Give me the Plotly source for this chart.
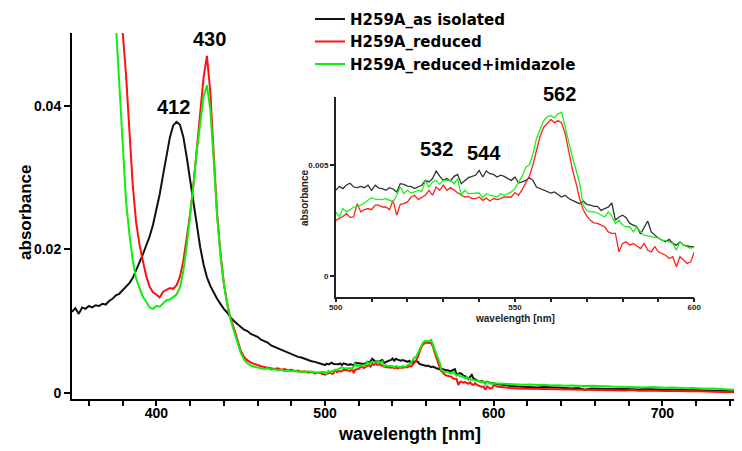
import plotly.graph_objects as go

# ---------------- data ----------------
# UV region (2 nm grid)
wl_uv_black = list(range(350, 500, 2))
black_uv = [0.0113, 0.0118, 0.0110, 0.0119, 0.0117, 0.0121, 0.0119, 0.0122, 0.0121, 0.0124,
            0.0123, 0.0128, 0.0131, 0.0136, 0.0138, 0.0143, 0.0147, 0.0153, 0.0160, 0.0170,
            0.0182, 0.0193, 0.0205, 0.0218, 0.0234, 0.0254, 0.0277, 0.0304, 0.0332, 0.0356,
            0.0373, 0.0378, 0.0374, 0.0357, 0.0329, 0.0297, 0.0263, 0.0231, 0.0203, 0.0179,
            0.0161, 0.0149, 0.0139, 0.0131, 0.0124, 0.0117, 0.0112, 0.0105, 0.0100, 0.0096,
            0.0092, 0.0088, 0.0086, 0.0082, 0.0080, 0.0078, 0.0074, 0.0072, 0.0070, 0.0066,
            0.0064, 0.0062, 0.0059, 0.0058, 0.0055, 0.0054, 0.0052, 0.0050, 0.0049, 0.0047,
            0.0046, 0.0044, 0.0043, 0.0041, 0.0040]

wl_uv_red_green = list(range(370, 500, 2))
red_uv = [0.090, 0.078, 0.068, 0.060, 0.054, 0.0505, 0.0445, 0.0360, 0.0290, 0.0238,
          0.0207, 0.0184, 0.0163, 0.0148, 0.0140, 0.0137, 0.0133, 0.0141, 0.0143, 0.0146,
          0.0145, 0.0150, 0.0162, 0.0184, 0.0216, 0.0249, 0.0290, 0.0342, 0.0394, 0.0440,
          0.0470, 0.0420, 0.0333, 0.0250, 0.0195, 0.0153, 0.0124, 0.0104, 0.0090, 0.0074,
          0.0059, 0.0050, 0.0045, 0.0042, 0.0040, 0.0039, 0.0037, 0.0036, 0.0035, 0.0035,
          0.0033, 0.0034, 0.0032, 0.0033, 0.0031, 0.0032, 0.0030, 0.0031, 0.0029, 0.0030,
          0.0028, 0.0029, 0.0027, 0.0028, 0.0026]
green_uv = [0.085, 0.070, 0.060, 0.0515, 0.0430, 0.0335, 0.0268, 0.0222, 0.0185, 0.0159,
            0.0145, 0.0134, 0.0127, 0.0119, 0.0117, 0.0121, 0.0120, 0.0125, 0.0129, 0.0130,
            0.0134, 0.0137, 0.0147, 0.0170, 0.0205, 0.0246, 0.0290, 0.0338, 0.0380, 0.0413,
            0.0429, 0.0395, 0.0325, 0.0248, 0.0192, 0.0153, 0.0124, 0.0102, 0.0086, 0.0070,
            0.0056, 0.0046, 0.0041, 0.0038, 0.0036, 0.0035, 0.0034, 0.0033, 0.0034, 0.0032,
            0.0033, 0.0031, 0.0032, 0.0030, 0.0031, 0.0030, 0.0031, 0.0029, 0.0030, 0.0029,
            0.0030, 0.0029, 0.0029, 0.0028, 0.0029]

# Visible region (1 nm grid, also shown in the inset)
wl_vis = list(range(500, 601))
black_vis = [0.00386, 0.00404, 0.00394, 0.00410, 0.00418, 0.00401, 0.00398, 0.00404, 0.00398, 0.00409,
             0.00386, 0.00409, 0.00396, 0.00394, 0.00386, 0.00398, 0.00392, 0.00379, 0.00416, 0.00413,
             0.00405, 0.00404, 0.00394, 0.00400, 0.00409, 0.00431, 0.00424, 0.00439, 0.00473, 0.00450,
             0.00431, 0.00439, 0.00428, 0.00449, 0.00458, 0.00416, 0.00431, 0.00443, 0.00449, 0.00454,
             0.00476, 0.00446, 0.00473, 0.00461, 0.00458, 0.00446, 0.00454, 0.00449, 0.00439, 0.00431,
             0.00446, 0.00419, 0.00424, 0.00431, 0.00443, 0.00431, 0.00401, 0.00394, 0.00386, 0.00379,
             0.00374, 0.00379, 0.00366, 0.00356, 0.00364, 0.00349, 0.00341, 0.00334, 0.00326, 0.00338,
             0.00323, 0.00319, 0.00314, 0.00314, 0.00296, 0.00304, 0.00310, 0.00329, 0.00251, 0.00266,
             0.00274, 0.00263, 0.00237, 0.00229, 0.00222, 0.00189, 0.00222, 0.00248, 0.00199, 0.00184,
             0.00170, 0.00162, 0.00154, 0.00165, 0.00147, 0.00139, 0.00154, 0.00139, 0.00135, 0.00132,
             0.00132]
red_vis = [0.00251, 0.00259, 0.00268, 0.00281, 0.00264, 0.00266, 0.00326, 0.00289, 0.00299, 0.00304,
           0.00299, 0.00319, 0.00319, 0.00311, 0.00311, 0.00299, 0.00341, 0.00274, 0.00323, 0.00326,
           0.00334, 0.00356, 0.00364, 0.00344, 0.00356, 0.00364, 0.00386, 0.00364, 0.00401, 0.00386,
           0.00409, 0.00386, 0.00398, 0.00386, 0.00374, 0.00364, 0.00356, 0.00359, 0.00349, 0.00349,
           0.00356, 0.00341, 0.00351, 0.00338, 0.00349, 0.00344, 0.00349, 0.00356, 0.00356, 0.00356,
           0.00376, 0.00364, 0.00390, 0.00420, 0.00450, 0.00500, 0.00570, 0.00630, 0.00670, 0.00690,
           0.00705, 0.00690, 0.00700, 0.00690, 0.00641, 0.00560, 0.00480, 0.00420, 0.00350, 0.00300,
           0.00270, 0.00251, 0.00240, 0.00237, 0.00229, 0.00222, 0.00199, 0.00192, 0.00192, 0.00109,
           0.00147, 0.00154, 0.00139, 0.00147, 0.00135, 0.00124, 0.00147, 0.00117, 0.00109, 0.00132,
           0.00109, 0.00102, 0.00094, 0.00079, 0.00087, 0.00042, 0.00087, 0.00072, 0.00057, 0.00064,
           0.00109]
green_vis = [0.00289, 0.00266, 0.00304, 0.00289, 0.00299, 0.00311, 0.00314, 0.00319, 0.00330, 0.00341,
             0.00353, 0.00346, 0.00344, 0.00344, 0.00349, 0.00340, 0.00334, 0.00364, 0.00401, 0.00371,
             0.00386, 0.00374, 0.00379, 0.00386, 0.00380, 0.00431, 0.00401, 0.00424, 0.00431, 0.00413,
             0.00431, 0.00431, 0.00431, 0.00416, 0.00439, 0.00364, 0.00386, 0.00371, 0.00371, 0.00371,
             0.00374, 0.00353, 0.00371, 0.00364, 0.00359, 0.00356, 0.00371, 0.00364, 0.00371, 0.00379,
             0.00395, 0.00420, 0.00450, 0.00490, 0.00500, 0.00550, 0.00620, 0.00660, 0.00700, 0.00718,
             0.00722, 0.00713, 0.00731, 0.00738, 0.00671, 0.00590, 0.00535, 0.00480, 0.00420, 0.00320,
             0.00295, 0.00289, 0.00289, 0.00284, 0.00274, 0.00266, 0.00289, 0.00270, 0.00237, 0.00251,
             0.00230, 0.00222, 0.00222, 0.00199, 0.00222, 0.00199, 0.00184, 0.00180, 0.00177, 0.00174,
             0.00172, 0.00162, 0.00160, 0.00154, 0.00147, 0.00117, 0.00154, 0.00139, 0.00132, 0.00125,
             0.00132]

# Red tail (4 nm grid)
wl_tail = list(range(602, 747, 4))
black_tail = [0.00120, 0.00105, 0.00095, 0.00088, 0.00082, 0.00085, 0.00074, 0.00078, 0.00070, 0.00072,
              0.00066, 0.00058, 0.00064, 0.00040, 0.00060, 0.00056, 0.00058, 0.00052, 0.00055, 0.00050,
              0.00052, 0.00046, 0.00050, 0.00044, 0.00046, 0.00040, 0.00044, 0.00036, 0.00040, 0.00034,
              0.00032, 0.00030, 0.00028, 0.00026, 0.00024, 0.00022, 0.00020]
red_tail = [0.00085, 0.00072, 0.00065, 0.00060, 0.00058, 0.00062, 0.00052, 0.00056, 0.00048, 0.00050,
            0.00044, 0.00048, 0.00040, 0.00044, 0.00038, 0.00042, 0.00036, 0.00040, 0.00034, 0.00030,
            0.00036, 0.00028, 0.00032, 0.00026, 0.00030, 0.00024, 0.00028, 0.00022, 0.00020, 0.00024,
            0.00016, 0.00018, 0.00012, 0.00010, 0.00014, 0.00006, 0.00004]
green_tail = [0.00130, 0.00125, 0.00118, 0.00120, 0.00110, 0.00115, 0.00108, 0.00112, 0.00100, 0.00105,
              0.00098, 0.00102, 0.00095, 0.00092, 0.00096, 0.00088, 0.00090, 0.00085, 0.00082, 0.00086,
              0.00078, 0.00080, 0.00074, 0.00078, 0.00072, 0.00070, 0.00074, 0.00066, 0.00062, 0.00066,
              0.00058, 0.00055, 0.00058, 0.00050, 0.00046, 0.00042, 0.00040]

series_names = ["H259A_as isolated", "H259A_reduced", "H259A_reduced+imidazole"]
series_colors = ["#111111", "#ff1010", "#10ee10"]
inset_colors = ["#333333", "#ff2020", "#20ee20"]

peak_labels_main = ["412", "430"]
peak_pos_main = [(409.9, 0.0399), (431.8, 0.0494)]
peak_labels_inset = ["532", "544", "562"]
peak_x_inset = [528.0, 541.4, 562.4]
peak_yfrac_inset = [0.683, 0.672, 0.832]   # paper fraction (label 562 sits above the inset frame)

# ---------------- figure ----------------
FONT = "Liberation Sans, Arial, sans-serif"
W, H = 734, 443            # page adds an 8px body margin
ML, MT, MB = 64, 25, 52
fig = go.Figure()

main_x = [wl_uv_black + wl_vis + wl_tail,
          wl_uv_red_green + wl_vis + wl_tail,
          wl_uv_red_green + wl_vis + wl_tail]
main_y = [black_uv + black_vis + black_tail,
          red_uv + red_vis + red_tail,
          green_uv + green_vis + green_tail]
vis_y = [black_vis, red_vis, green_vis]

for name, col, xs, ys in zip(series_names, series_colors, main_x, main_y):
    fig.add_trace(go.Scatter(x=xs, y=ys, mode="lines", name=name,
                             line=dict(color=col, width=2), xaxis="x", yaxis="y"))

for name, col, ys in zip(series_names, inset_colors, vis_y):
    fig.add_trace(go.Scatter(x=wl_vis, y=ys, mode="lines", name=name, showlegend=False,
                             line=dict(color=col, width=1.3), xaxis="x2", yaxis="y2"))

big = dict(family=FONT, size=20, color="black", weight="bold")
annotations = []
for txt, (ax_, ay_) in zip(peak_labels_main, peak_pos_main):
    annotations.append(dict(x=ax_, y=ay_, xref="x", yref="y", text=txt, showarrow=False,
                            font=big, xanchor="center", yanchor="middle"))
for txt, ax_, ay_ in zip(peak_labels_inset, peak_x_inset, peak_yfrac_inset):
    annotations.append(dict(x=ax_, y=ay_, xref="x2", yref="paper", text=txt, showarrow=False,
                            font=big, xanchor="center", yanchor="middle"))

# axis titles
annotations += [
    dict(text="wavelength [nm]", x=0.503, y=-0.0956, xref="paper", yref="paper",
         showarrow=False, xanchor="center", yanchor="middle",
         font=dict(family=FONT, size=18, color="black", weight="bold")),
    dict(text="absorbance", x=-0.0687, y=0.511, xref="paper", yref="paper", textangle=-90,
         showarrow=False, xanchor="center", yanchor="middle",
         font=dict(family=FONT, size=17, color="black", weight="bold")),
    dict(text="wavelength [nm]", x=0.661, y=0.2213, xref="paper", yref="paper",
         showarrow=False, xanchor="center", yanchor="middle",
         font=dict(family=FONT, size=10, color="#222222", weight="bold")),
    dict(text="absorbance", x=0.3463, y=0.549, xref="paper", yref="paper", textangle=-90,
         showarrow=False, xanchor="center", yanchor="middle",
         font=dict(family=FONT, size=10, color="#222222", weight="bold")),
]

fig.update_layout(
    width=W, height=H, autosize=False,
    margin=dict(l=ML, r=0, t=MT, b=MB, pad=0, autoexpand=False),
    paper_bgcolor="white", plot_bgcolor="white",
    font=dict(family=FONT, color="black"),
    showlegend=True,
    legend=dict(xref="paper", yref="paper", x=0.3552, y=1.0828,
                xanchor="left", yanchor="top", bgcolor="rgba(0,0,0,0)",
                font=dict(family="DejaVu Sans, Liberation Sans, sans-serif", size=15,
                          color="black", weight="bold"),
                itemwidth=30, tracegroupgap=0),
    annotations=annotations,
    xaxis=dict(range=[350, 747.2], domain=[0, 1], anchor="y", automargin=False,
               showline=True, linewidth=2, linecolor="black", mirror=False,
               showgrid=False, zeroline=False,
               ticks="outside", ticklen=5, tickwidth=2, tickcolor="black",
               tick0=0, dtick=100, ticklabelstandoff=-5,
               minor=dict(dtick=20, tick0=0, ticks="outside", ticklen=5, tickwidth=2,
                          tickcolor="black", showgrid=False),
               tickfont=dict(family=FONT, size=14, color="black", weight="bold")),
    yaxis=dict(range=[-0.00088, 0.0502], domain=[0, 1], anchor="x", automargin=False,
               showline=True, linewidth=2, linecolor="black", mirror=False,
               showgrid=False, zeroline=False,
               ticks="outside", ticklen=6, tickwidth=2, tickcolor="black",
               tickvals=[0, 0.02, 0.04], ticktext=["0", "0.02", "0.04"],
               tickfont=dict(family=FONT, size=14, color="black", weight="bold")),
    xaxis2=dict(range=[500, 600], domain=[0.3936, 0.9288], anchor="y2", automargin=False,
                showline=True, linewidth=1.5, linecolor="#222222", mirror=False,
                showgrid=False, zeroline=False,
                ticks="outside", ticklen=4, tickwidth=1.5, tickcolor="#222222",
                tick0=0, dtick=50, ticklabelstandoff=-2,
                minor=dict(dtick=10, tick0=0, ticks="outside", ticklen=4, tickwidth=1.5,
                           tickcolor="#222222", showgrid=False),
                tickfont=dict(family=FONT, size=8, color="#222222", weight="bold")),
    yaxis2=dict(range=[-0.00093, 0.00805], domain=[0.2795, 0.8243], anchor="x2", automargin=False,
                showline=True, linewidth=1.5, linecolor="#222222", mirror=False,
                showgrid=False, zeroline=False,
                ticks="outside", ticklen=4, tickwidth=1.5, tickcolor="#222222",
                tickvals=[0, 0.005], ticktext=["0", "0.005"],
                tickfont=dict(family=FONT, size=8, color="#222222", weight="bold")),
)

fig.write_html("out.html")
